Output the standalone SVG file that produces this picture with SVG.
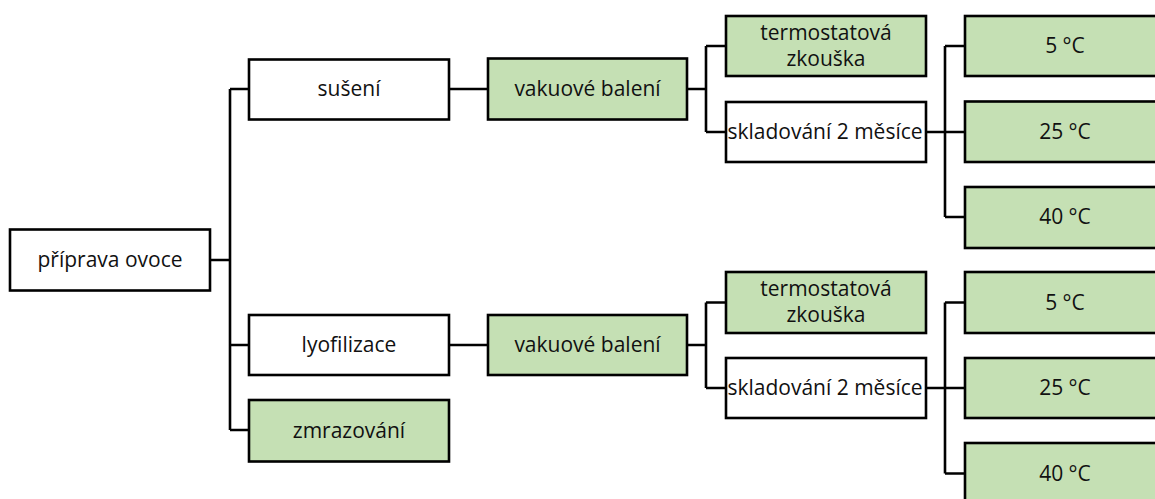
<svg xmlns="http://www.w3.org/2000/svg" width="1155" height="499" viewBox="0 0 1155 499">
<style>
.w,.g{stroke:#000;stroke-width:2.6}
.w{fill:#fff}
.g{fill:#c5e0b4}
text{font-family:"Open Sans","Noto Sans",sans-serif;font-size:21px;fill:#111;text-anchor:middle}
#connectors path{fill:none;stroke:#000;stroke-width:2.6}
</style>
<rect x="0" y="0" width="1155" height="499" fill="#fff"/>
<g id="connectors">
<path d="M210 260H230M230 89V430M230 89H249M230 345H249M230 430H249"/>
<path d="M449 89H488M687 89H706M706 46V132M706 46H726M706 132H726M926 132H945M945 46V217M945 46H965M945 132H965M945 217H965"/>
<path d="M449 345H488M687 345H706M706 302.5V388M706 302.5H726M706 388H726M926 388H945M945 302.5V473.5M945 302.5H965M945 388H965M945 473.5H965"/>
</g>
<g id="n_priprava"><rect class="w" x="10" y="229.5" width="200" height="61"/><text x="110" y="267">příprava ovoce</text></g>
<g id="n_suseni"><rect class="w" x="249" y="59.5" width="200" height="60"/><text x="349" y="96">sušení</text></g>
<g id="n_vak1"><rect class="g" x="488" y="58.5" width="199" height="61"/><text x="587.5" y="96">vakuové balení</text></g>
<g id="n_term1"><rect class="g" x="726" y="16" width="200" height="60"/><text x="826" y="39.5">termostatová</text><text x="826" y="65.5">zkouška</text></g>
<g id="n_sklad1"><rect class="w" x="726" y="102" width="200" height="60"/><text x="825" y="139">skladování 2 měsíce</text></g>
<g id="n_t5a"><rect class="g" x="965" y="16" width="202" height="60"/><text x="1065" y="53">5 °C</text></g>
<g id="n_t25a"><rect class="g" x="965" y="101.5" width="202" height="60.5"/><text x="1065" y="139">25 °C</text></g>
<g id="n_t40a"><rect class="g" x="965" y="187" width="202" height="61"/><text x="1065" y="224">40 °C</text></g>
<g id="n_lyo"><rect class="w" x="249" y="315" width="200" height="60"/><text x="349" y="352">lyofilizace</text></g>
<g id="n_zmraz"><rect class="g" x="249" y="400" width="200" height="61.5"/><text x="349" y="437.5">zmrazování</text></g>
<g id="n_vak2"><rect class="g" x="488" y="315" width="199" height="60"/><text x="587.5" y="352">vakuové balení</text></g>
<g id="n_term2"><rect class="g" x="726" y="272" width="200" height="61"/><text x="826" y="296">termostatová</text><text x="826" y="322">zkouška</text></g>
<g id="n_sklad2"><rect class="w" x="726" y="358" width="200" height="60"/><text x="825" y="395">skladování 2 měsíce</text></g>
<g id="n_t5b"><rect class="g" x="965" y="272" width="202" height="61"/><text x="1065" y="309.5">5 °C</text></g>
<g id="n_t25b"><rect class="g" x="965" y="358" width="202" height="60"/><text x="1065" y="395">25 °C</text></g>
<g id="n_t40b"><rect class="g" x="965" y="443" width="202" height="70"/><text x="1065" y="480.5">40 °C</text></g>
</svg>
